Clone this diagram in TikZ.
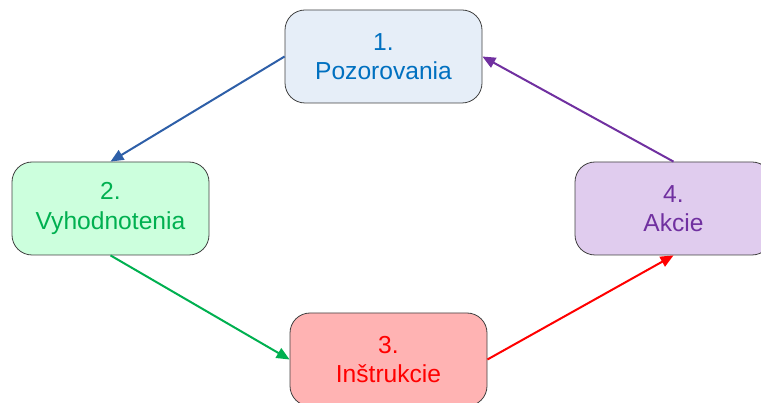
\documentclass[tikz,border=0pt]{standalone}
\usepackage{fontspec}
\setmainfont{Liberation Sans}
\usepackage{tikz}
\usetikzlibrary{arrows.meta}

\definecolor{blueFill}{HTML}{E6EEF8}
\definecolor{blueText}{HTML}{0070C0}
\definecolor{blueLine}{HTML}{2E5FA8}
\definecolor{greenFill}{HTML}{CCFFDD}
\definecolor{greenText}{HTML}{00B050}
\definecolor{redFill}{HTML}{FFB3B3}
\definecolor{redText}{HTML}{FF0000}
\definecolor{violetFill}{HTML}{E0CCEE}
\definecolor{violetText}{HTML}{7030A0}

\tikzset{
  phase/.style={draw=black!75, line width=0.8pt, rounded corners=20pt,
    minimum width=197pt, minimum height=93pt, align=center,
    font=\fontsize{24.6}{29.5}\selectfont},
  link/.style={line width=2pt, -{Triangle[length=13pt,width=11pt]}}
}

\begin{document}
\begin{tikzpicture}[x=1pt,y=-1pt]
    \useasboundingbox (0,0) rectangle (761,403);
    \node[phase, fill=blueFill, text=blueText] (p1) at (383.5,56.5) {1.\\Pozorovania};
    \node[phase, fill=greenFill, text=greenText] (p2) at (110.5,208.5) {2.\\Vyhodnotenia};
    \node[phase, fill=redFill, text=redText] (p3) at (388.5,359.5) {3.\\Inštrukcie};
    \node[phase, fill=violetFill, text=violetText] (p4) at (673.5,208.5) {4.\\Akcie};
    \draw[link, blueLine] (p1.west)--(p2.north);
    \draw[link, greenText] (p2.south)--(p3.west);
    \draw[link, redText] (p3.east)--(p4.south);
    \draw[link, violetText] (p4.north)--(p1.east);
\end{tikzpicture}
\end{document}
